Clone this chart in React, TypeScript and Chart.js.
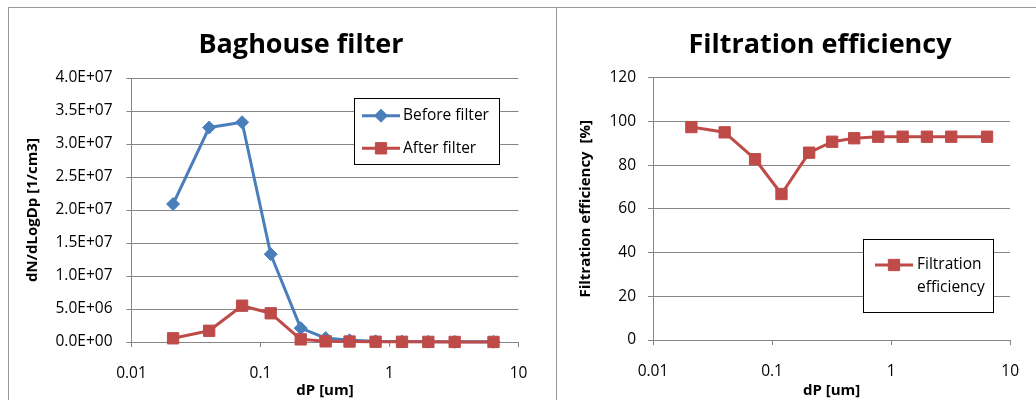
import React, { useEffect, useRef } from 'react';
import { Chart, registerables } from 'chart.js';

Chart.register(...registerables);

// ---- data ----
const particleSizes = [0.021, 0.04, 0.072, 0.12, 0.205, 0.32, 0.49, 0.78, 1.25, 2.0, 3.2, 6.4];
const beforeFilter = [2.09e7, 3.25e7, 3.33e7, 1.33e7, 2.1e6, 6e5, 2.5e5, 1e5, 6e4, 4e4, 3e4, 2e4];
const afterFilter = [5.6e5, 1.7e6, 5.5e6, 4.35e6, 4e5, 1e5, 7e4, 4e4, 3e4, 2e4, 1e4, 1e4];
const filtrationEfficiency = [97.4, 95.0, 82.7, 66.8, 85.7, 90.7, 92.3, 93.0, 93.0, 93.0, 93.0, 93.0];
const xTickValues = [0.01, 0.1, 1, 10];
const xTickLabels = ['0.01', '0.1', '1', '10'];
const leftTitle = 'Baghouse filter';
const rightTitle = 'Filtration efficiency';
const leftSeriesNames = ['Before filter', 'After filter'];
const rightSeriesName = ['Filtration', 'efficiency'];

// ---- styles ----
const FONT = "'Open Sans', 'Noto Sans', sans-serif";
const GRID = '#868686';
const BLUE = '#4a7ebb';
const RED = '#be4b48';

const sci = (v: number) => {
  const [m, e] = Number(v).toExponential(1).split('e');
  const n = parseInt(e, 10);
  return `${m}E${n < 0 ? '-' : '+'}${String(Math.abs(n)).padStart(2, '0')}`;
};

const xLabel = (v: number) => {
  const i = xTickValues.findIndex((t) => Math.abs(t - v) < 1e-9);
  return i >= 0 ? xTickLabels[i] : '';
};

function pts(ys: number[]) {
  return particleSizes.map((x, i) => ({ x, y: ys[i] }));
}

function drawMarker(ctx: CanvasRenderingContext2D, style: string, x: number, y: number, r: number, color: string) {
  ctx.save();
  ctx.fillStyle = color;
  ctx.strokeStyle = color;
  ctx.lineWidth = 1;
  ctx.beginPath();
  if (style === 'rectRot') {
    ctx.moveTo(x - r, y);
    ctx.lineTo(x, y - r);
    ctx.lineTo(x + r, y);
    ctx.lineTo(x, y + r);
    ctx.closePath();
  } else {
    const s = Math.SQRT1_2 * r;
    ctx.rect(x - s, y - s, 2 * s, 2 * s);
  }
  ctx.fill();
  ctx.stroke();
  ctx.restore();
}

type LegendItem = { lines: string[]; color: string; style: string; radius: number };

function decorPlugin(title: string, titleX: number, titleY: number, legend: {
  x: number; y: number; w: number; h: number; lineX1: number; lineX2: number; textX: number; rowYs: number[]; lineGap: number; items: LegendItem[];
}) {
  return {
    id: 'decor',
    afterDraw(chart: any) {
      const ctx: CanvasRenderingContext2D = chart.ctx;
      ctx.save();
      // title
      ctx.fillStyle = '#000';
      ctx.font = `bold 27px ${FONT}`;
      ctx.textAlign = 'center';
      ctx.textBaseline = 'alphabetic';
      ctx.fillText(title, titleX, titleY);
      // legend box
      ctx.fillStyle = '#fff';
      ctx.fillRect(legend.x, legend.y, legend.w, legend.h);
      ctx.strokeStyle = '#000';
      ctx.lineWidth = 1;
      ctx.strokeRect(legend.x + 0.5, legend.y + 0.5, legend.w, legend.h);
      legend.items.forEach((it, i) => {
        const y = legend.rowYs[i];
        ctx.strokeStyle = it.color;
        ctx.lineWidth = 3;
        ctx.beginPath();
        ctx.moveTo(legend.lineX1, y);
        ctx.lineTo(legend.lineX2, y);
        ctx.stroke();
        drawMarker(ctx, it.style, (legend.lineX1 + legend.lineX2) / 2, y, it.radius, it.color);
        ctx.fillStyle = '#000';
        ctx.font = `15.5px ${FONT}`;
        ctx.textAlign = 'left';
        ctx.textBaseline = 'middle';
        it.lines.forEach((t, k) => ctx.fillText(t, legend.textX, y + k * legend.lineGap));
      });
      ctx.restore();
    },
  };
}

function baseScales(opts: {
  yMin: number; yMax: number; yStep: number; yFmt: (v: number) => string; yWidth: number; yPad: number; yTitle: string; yTitlePad: number; xHeight: number;
}) {
  return {
    x: {
      type: 'logarithmic',
      min: 0.01,
      max: 10,
      afterBuildTicks: (s: any) => {
        s.ticks = xTickValues.map((v) => ({ value: v, major: true }));
      },
      afterFit: (s: any) => {
        s.height = opts.xHeight;
      },
      ticks: {
        callback: (v: any) => xLabel(Number(v)),
        font: { family: FONT, size: 15.5 },
        color: '#000',
        padding: 17,
        maxRotation: 0,
        autoSkip: false,
      },
      grid: { drawOnChartArea: false, drawTicks: true, tickLength: 5, color: GRID, lineWidth: 1 },
      border: { display: true, color: GRID, width: 1 },
      title: {
        display: true,
        text: 'dP [um]',
        font: { family: FONT, size: 15, weight: 'bold' },
        color: '#000',
        padding: { top: 0, bottom: 0 },
      },
    },
    y: {
      min: opts.yMin,
      max: opts.yMax,
      afterFit: (s: any) => {
        s.width = opts.yWidth;
      },
      ticks: {
        stepSize: opts.yStep,
        callback: (v: any) => opts.yFmt(Number(v)),
        font: { family: FONT, size: 15.5 },
        color: '#000',
        padding: opts.yPad,
      },
      grid: { drawTicks: true, tickLength: 5, color: GRID, lineWidth: 1 },
      border: { display: true, color: GRID, width: 1 },
      title: {
        display: true,
        text: opts.yTitle,
        font: { family: FONT, size: 15, weight: 'bold' },
        color: '#000',
        padding: { top: opts.yTitlePad, bottom: 0 },
      },
    },
  };
}

function leftConfig(): any {
  return {
    type: 'line',
    data: {
      datasets: [
        {
          label: leftSeriesNames[0],
          data: pts(beforeFilter),
          borderColor: BLUE,
          backgroundColor: BLUE,
          borderWidth: 3,
          pointStyle: 'rectRot',
          pointRadius: 6.5,
          pointBorderWidth: 1,
          borderJoinStyle: 'round',
          tension: 0,
          clip: false,
          order: 1,
        },
        {
          label: leftSeriesNames[1],
          data: pts(afterFilter),
          borderColor: RED,
          backgroundColor: RED,
          borderWidth: 3,
          pointStyle: 'rect',
          pointRadius: 8,
          pointBorderWidth: 1,
          borderJoinStyle: 'round',
          tension: 0,
          clip: false,
          order: 0,
        },
      ],
    },
    options: {
      responsive: false,
      animation: false,
      events: [],
      layout: { padding: { left: 0, right: 36.5, top: 70, bottom: 0 } },
      plugins: { legend: { display: false }, title: { display: false }, tooltip: { enabled: false } },
      scales: baseScales({
        yMin: 0, yMax: 4e7, yStep: 5e6, yFmt: sci, yWidth: 122.5, yPad: 14,
        yTitle: 'dN/dLogDp [1/cm3]', yTitlePad: 14.5, xHeight: 58,
      }),
    },
    plugins: [
      decorPlugin(leftTitle, 292, 45, {
        x: 345, y: 90, w: 145, h: 66, lineX1: 353, lineX2: 391, textX: 394, rowYs: [107.7, 140.3], lineGap: 0,
        items: [
          { lines: [leftSeriesNames[0]], color: BLUE, style: 'rectRot', radius: 6.5 },
          { lines: [leftSeriesNames[1]], color: RED, style: 'rect', radius: 8 },
        ],
      }),
    ],
  };
}

function rightConfig(): any {
  return {
    type: 'line',
    data: {
      datasets: [
        {
          label: rightSeriesName.join(' '),
          data: pts(filtrationEfficiency),
          borderColor: RED,
          backgroundColor: RED,
          borderWidth: 3,
          pointStyle: 'rect',
          pointRadius: 8,
          pointBorderWidth: 1,
          borderJoinStyle: 'round',
          tension: 0,
          clip: false,
        },
      ],
    },
    options: {
      responsive: false,
      animation: false,
      events: [],
      layout: { padding: { left: 0, right: 18, top: 69.7, bottom: 0 } },
      plugins: { legend: { display: false }, title: { display: false }, tooltip: { enabled: false } },
      scales: baseScales({
        yMin: 0, yMax: 120, yStep: 20, yFmt: (v) => String(Math.round(v)), yWidth: 96, yPad: 12,
        yTitle: 'Filtration efficiency  [%]', yTitlePad: 20, xHeight: 60,
      }),
    },
    plugins: [
      decorPlugin(rightTitle, 263, 45, {
        x: 306, y: 231, w: 130, h: 73, lineX1: 318, lineX2: 356, textX: 360, rowYs: [257], lineGap: 23,
        items: [{ lines: rightSeriesName, color: RED, style: 'rect', radius: 8 }],
      }),
    ],
  };
}

function ChartCanvas({ make, left, top, width, height }: { make: () => any; left: number; top: number; width: number; height: number }) {
  const ref = useRef<HTMLCanvasElement>(null);
  useEffect(() => {
    if (!ref.current) return;
    const chart = new Chart(ref.current, make());
    return () => chart.destroy();
  }, []);
  return (
    <canvas
      ref={ref}
      width={width}
      height={height}
      style={{ position: 'absolute', left, top, width, height, display: 'block' }}
    />
  );
}

export default function App() {
  const line = (l: number, t: number, w: number, h: number) => (
    <div style={{ position: 'absolute', left: l, top: t, width: w, height: h, background: '#9a9a9a' }} />
  );
  return (
    <div style={{ position: 'absolute', left: 0, top: 0, width: 1036, height: 400, background: '#fff', overflow: 'hidden' }}>
      <ChartCanvas make={leftConfig} left={9} top={8} width={546} height={392} />
      <ChartCanvas make={rightConfig} left={557} top={8} width={479} height={392} />
      {line(8, 7, 1028, 1)}
      {line(8, 7, 1, 393)}
      {line(556, 7, 1, 393)}
    </div>
  );
}
